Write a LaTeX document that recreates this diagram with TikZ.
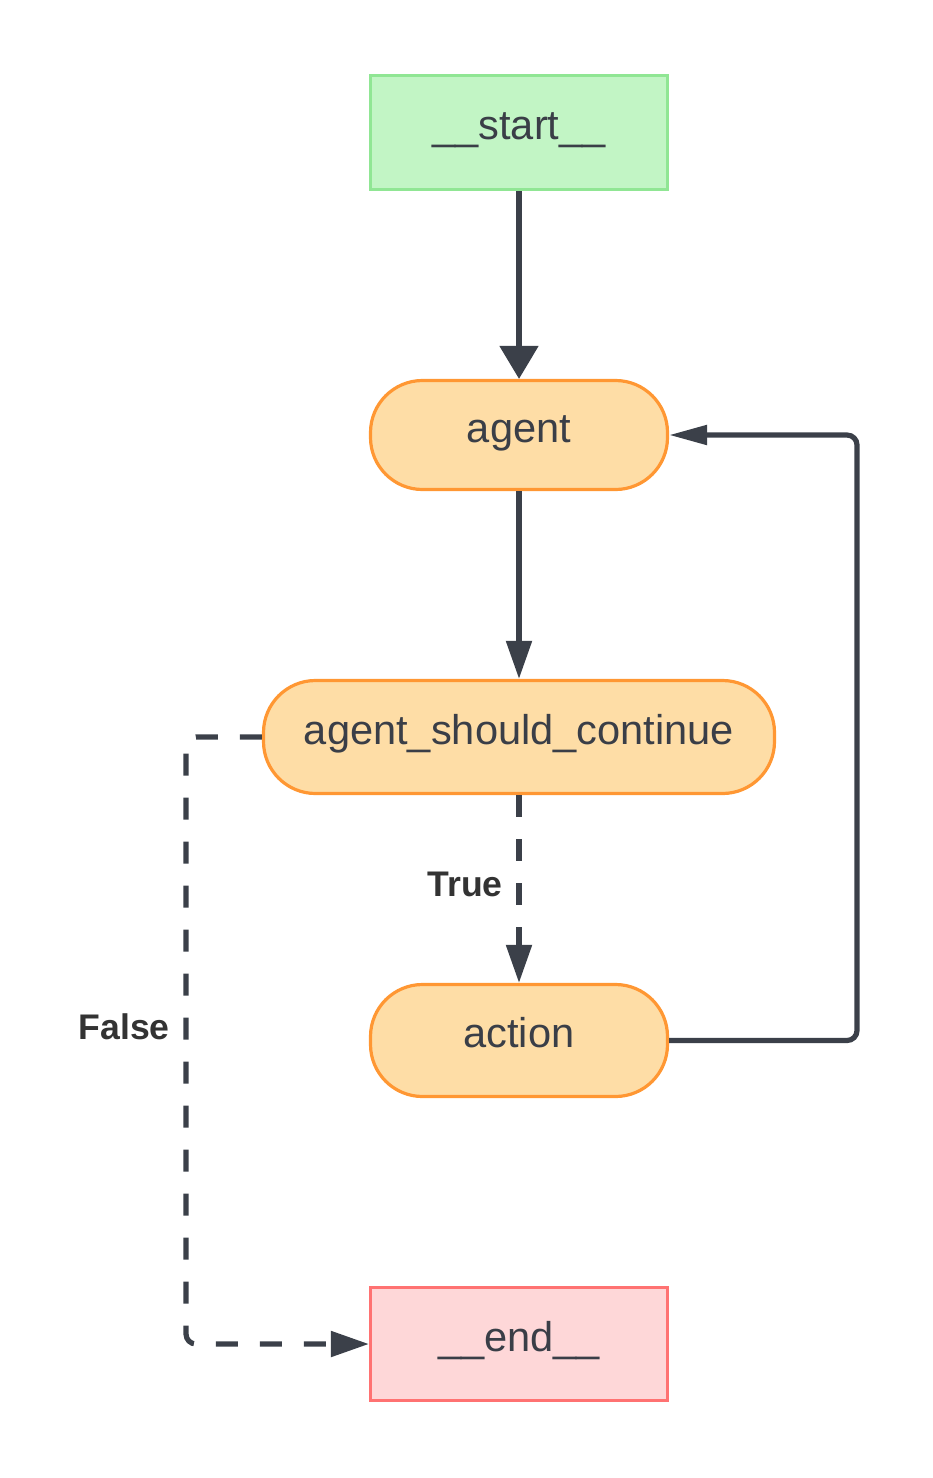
\documentclass[tikz,border=0pt]{standalone}
\usepackage{fontspec}
\setmainfont{Liberation Sans}
\usetikzlibrary{arrows.meta}
\definecolor{linec}{HTML}{3B4049}
\definecolor{txtc}{HTML}{3A3E47}
\definecolor{lblc}{HTML}{333333}
\definecolor{startfill}{HTML}{C2F5C5}
\definecolor{startdraw}{HTML}{90E694}
\definecolor{nodefill}{HTML}{FEDDA6}
\definecolor{nodedraw}{HTML}{FF9733}
\definecolor{endfill}{HTML}{FED7D8}
\definecolor{enddraw}{HTML}{FF7272}
\begin{document}
\begin{tikzpicture}[x=0.5pt,y=-0.5pt,
  box/.style={draw, line width=1.6pt, minimum width=148.5pt, minimum height=56.5pt,
    inner sep=0pt, font=\fontsize{20.8pt}{25pt}\selectfont, text=txtc,
    text height=12.5pt, text depth=5.4pt},
  startbox/.style={box, fill=startfill, draw=startdraw},
  endbox/.style={box, fill=endfill, draw=enddraw},
  pill/.style={box, fill=nodefill, draw=nodedraw, rounded corners=26pt},
  conn/.style={draw=linec, line width=2.6pt},
  dashpat/.style={dash pattern=on 11pt off 11pt},
  bigtip/.style={-{Triangle[length=16.5pt,width=19pt]}},
  tip/.style={-{Triangle[length=19pt,width=12.5pt]}},
  thintip/.style={-{Triangle[length=19pt,width=9.5pt]}},
  lbl/.style={font=\fontsize{17.8pt}{21pt}\selectfont\bfseries, text=lblc, inner sep=0pt}
]
\useasboundingbox (0,0) rectangle (932,1478);

\node[startbox, minimum height=57pt] (start) at (519,132.5) {\_\_start\_\_};
\node[pill, minimum height=54.5pt] (agent) at (519,435) {agent};
\node[pill, minimum width=255.5pt] (asc) at (519,737) {agent\_should\_continue};
\node[pill, minimum height=56pt] (action) at (519,1040.5) {action};
\node[endbox] (end) at (519,1344) {\_\_end\_\_};

\coordinate (f1) at (186,737);
\coordinate (f2) at (186,1344);
\coordinate (b1) at (857,1040.5);
\coordinate (b2) at (857,435);

\draw[conn, bigtip] (start) -- (agent);
\draw[conn, tip] (agent) -- (asc);
\draw[conn, dashpat, tip] (asc) -- (action);
\draw[conn, dashpat, tip, rounded corners=5pt] (asc.west) -- (f1) -- (f2) -- (end.west);
\draw[conn, thintip, rounded corners=5pt] (action.east) -- (b1) -- (b2) -- (agent.east);

\node[lbl, anchor=east] (ltrue) at (503,884) {True};
\node[lbl, anchor=east] (lfalse) at (170,1027) {False};
\end{tikzpicture}
\end{document}
